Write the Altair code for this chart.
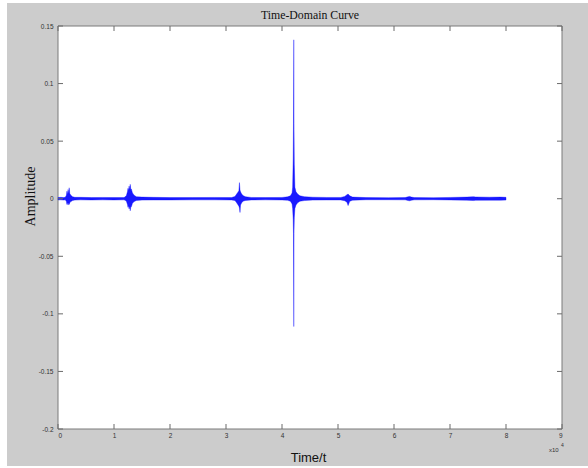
import altair as alt
import pandas as pd

# Signal envelope (time in units of 10^4)
time_e4 = [0.00, 0.05, 0.10, 0.13, 0.15, 0.16, 0.17, 0.18, 0.19, 0.20, 0.21, 0.23, 0.26, 0.30, 0.40, 0.60, 0.80,
           1.00, 1.18, 1.22, 1.24, 1.25, 1.26, 1.27, 1.28, 1.29, 1.30, 1.31, 1.33, 1.36, 1.40, 1.50, 1.70, 2.00, 2.40,
           2.80, 3.10, 3.16, 3.19, 3.21, 3.23, 3.24, 3.25, 3.26, 3.28, 3.31, 3.35, 3.45, 3.70,
           4.00, 4.10, 4.15, 4.18, 4.19, 4.20, 4.205, 4.21, 4.215, 4.22, 4.23, 4.25, 4.28, 4.32,
           4.40, 4.55, 4.80, 5.05, 5.12, 5.16, 5.18, 5.21, 5.26, 5.50, 5.90, 6.20, 6.25, 6.28,
           6.31, 6.36, 6.70, 7.00, 7.30, 7.42, 7.46, 7.70, 7.90, 8.00]
upper = [0.0010, 0.0012, 0.0010, 0.0012, 0.0030, 0.0065, 0.0035, 0.0080, 0.0040, 0.0095, 0.0045, 0.0030, 0.0018, 0.0012, 0.0012, 0.0010, 0.0011,
         0.0010, 0.0010, 0.0025, 0.0060, 0.0090, 0.0070, 0.0110, 0.0075, 0.0125, 0.0080, 0.0085, 0.0050, 0.0030, 0.0017, 0.0014, 0.0012, 0.0010, 0.0010,
         0.0011, 0.0010, 0.0020, 0.0040, 0.0055, 0.0070, 0.0140, 0.0075, 0.0060, 0.0040, 0.0025, 0.0017, 0.0011, 0.0010,
         0.0011, 0.0016, 0.0025, 0.0050, 0.0100, 0.0350, 0.0650, 0.1380, 0.0600, 0.0300, 0.0100, 0.0060, 0.0040, 0.0025,
         0.0018, 0.0013, 0.0011, 0.0011, 0.0020, 0.0035, 0.0040, 0.0025, 0.0014, 0.0010, 0.0009, 0.0010, 0.0016, 0.0020,
         0.0014, 0.0010, 0.0009, 0.0011, 0.0014, 0.0018, 0.0015, 0.0013, 0.0014, 0.0012]
lower = [-0.0010, -0.0010, -0.0012, -0.0010, -0.0025, -0.0050, -0.0030, -0.0055, -0.0035, -0.0050, -0.0035, -0.0025, -0.0016, -0.0012, -0.0010, -0.0011, -0.0010,
         -0.0011, -0.0010, -0.0020, -0.0050, -0.0075, -0.0060, -0.0090, -0.0065, -0.0105, -0.0070, -0.0070, -0.0040, -0.0025, -0.0015, -0.0012, -0.0011, -0.0011, -0.0010,
         -0.0010, -0.0011, -0.0016, -0.0035, -0.0050, -0.0065, -0.0080, -0.0120, -0.0055, -0.0035, -0.0020, -0.0015, -0.0011, -0.0010,
         -0.0011, -0.0014, -0.0022, -0.0045, -0.0085, -0.0180, -0.0300, -0.1110, -0.0280, -0.0160, -0.0085, -0.0055, -0.0035, -0.0022,
         -0.0016, -0.0012, -0.0011, -0.0011, -0.0018, -0.0030, -0.0060, -0.0022, -0.0013, -0.0009, -0.0009, -0.0010, -0.0016, -0.0018,
         -0.0014, -0.0010, -0.0009, -0.0011, -0.0013, -0.0016, -0.0014, -0.0013, -0.0013, -0.0012]

x_ticks = [0, 1, 2, 3, 4, 5, 6, 7, 8, 9]
y_ticks = [-0.2, -0.15, -0.1, -0.05, 0, 0.05, 0.1, 0.15]
title_text = "Time-Domain Curve"

W, H = 504, 403

sig = pd.DataFrame({"t": time_e4, "up": upper, "lo": lower})
one = pd.DataFrame({"k": [0]})
xt = pd.DataFrame({"t": x_ticks})
yt = pd.DataFrame({"up": y_ticks})

xs = alt.Scale(domain=[0, 9], nice=False, zero=False)
ys = alt.Scale(domain=[-0.2, 0.15], nice=False, zero=False)

x_axis = alt.Axis(
    values=x_ticks, title="Time/t", ticks=False, domain=False, grid=False,
    labelFont="Liberation Sans", labelFontSize=6.5, labelColor="#333333", labelPadding=3,
    titleFont="Liberation Sans", titleFontSize=13, titleFontWeight="normal", titleColor="#111111",
    titleX=250, titleY=28, titleBaseline="middle", titleAlign="center", zindex=2)
y_axis = alt.Axis(
    values=y_ticks, title="Amplitude", ticks=False, domain=False, grid=False, format="~g",
    labelExpr="replace(datum.label, '\u2212', '-')",
    labelFont="Liberation Sans", labelFontSize=6.5, labelColor="#333333", labelPadding=5,
    titleFont="Liberation Serif", titleFontSize=14, titleFontWeight="normal", titleColor="#111111",
    titleX=-28, titleY=170, titleAngle=-90, titleBaseline="middle", titleAlign="center", zindex=2)

X = alt.X("t:Q", scale=xs, axis=x_axis)
Y = alt.Y("up:Q", scale=ys, axis=y_axis)

grey = alt.Chart(one).mark_rect(color="#cccccc").encode(
    x=alt.value(-51), x2=alt.value(530), y=alt.value(-23), y2=alt.value(440))
white = alt.Chart(one).mark_rect(fill="white", stroke="#7a7a7a", strokeWidth=1).encode(
    x=alt.value(0), x2=alt.value(W), y=alt.value(0), y2=alt.value(H))

signal = alt.Chart(sig).mark_area(color="#0000ff", fillOpacity=0.9, stroke="#0000ff",
                                  strokeWidth=0.45, strokeOpacity=0.8, interpolate="linear").encode(
    x=X, y=Y, y2="lo:Q")

tick_col = "#6a6a6a"
xt_bot = alt.Chart(xt).mark_rule(color=tick_col).encode(x=X, y=alt.value(H), y2=alt.value(H - 5))
xt_top = alt.Chart(xt).mark_rule(color=tick_col).encode(x=X, y=alt.value(0), y2=alt.value(5))
yt_left = alt.Chart(yt).mark_rule(color=tick_col).encode(y=Y, x=alt.value(0), x2=alt.value(5))
yt_right = alt.Chart(yt).mark_rule(color=tick_col).encode(y=Y, x=alt.value(W), x2=alt.value(W - 5))

title_mark = alt.Chart(one).mark_text(text=title_text, font="Liberation Serif", fontSize=11.8,
                                      color="#111111", align="center", baseline="alphabetic").encode(
    x=alt.value(W / 2), y=alt.value(-7))

exp_base = alt.Chart(one).mark_text(text="x10", font="Liberation Sans", fontSize=6,
                                    color="#333333", align="left", baseline="middle").encode(
    x=alt.value(491), y=alt.value(424))
exp_sup = alt.Chart(one).mark_text(text="4", font="Liberation Sans", fontSize=5,
                                   color="#333333", align="left", baseline="middle").encode(
    x=alt.value(503), y=alt.value(419))

chart = alt.layer(grey, white, signal, xt_bot, xt_top, yt_left, yt_right,
                  title_mark, exp_base, exp_sup).properties(
    width=W, height=H,
    autosize=alt.AutoSizeParams(type="none"),
    padding={"left": 58, "top": 26, "right": 26, "bottom": 39},
    background="white",
).configure_view(stroke=None)

chart.save("out.html", embed_options={"renderer": "svg", "actions": False})
